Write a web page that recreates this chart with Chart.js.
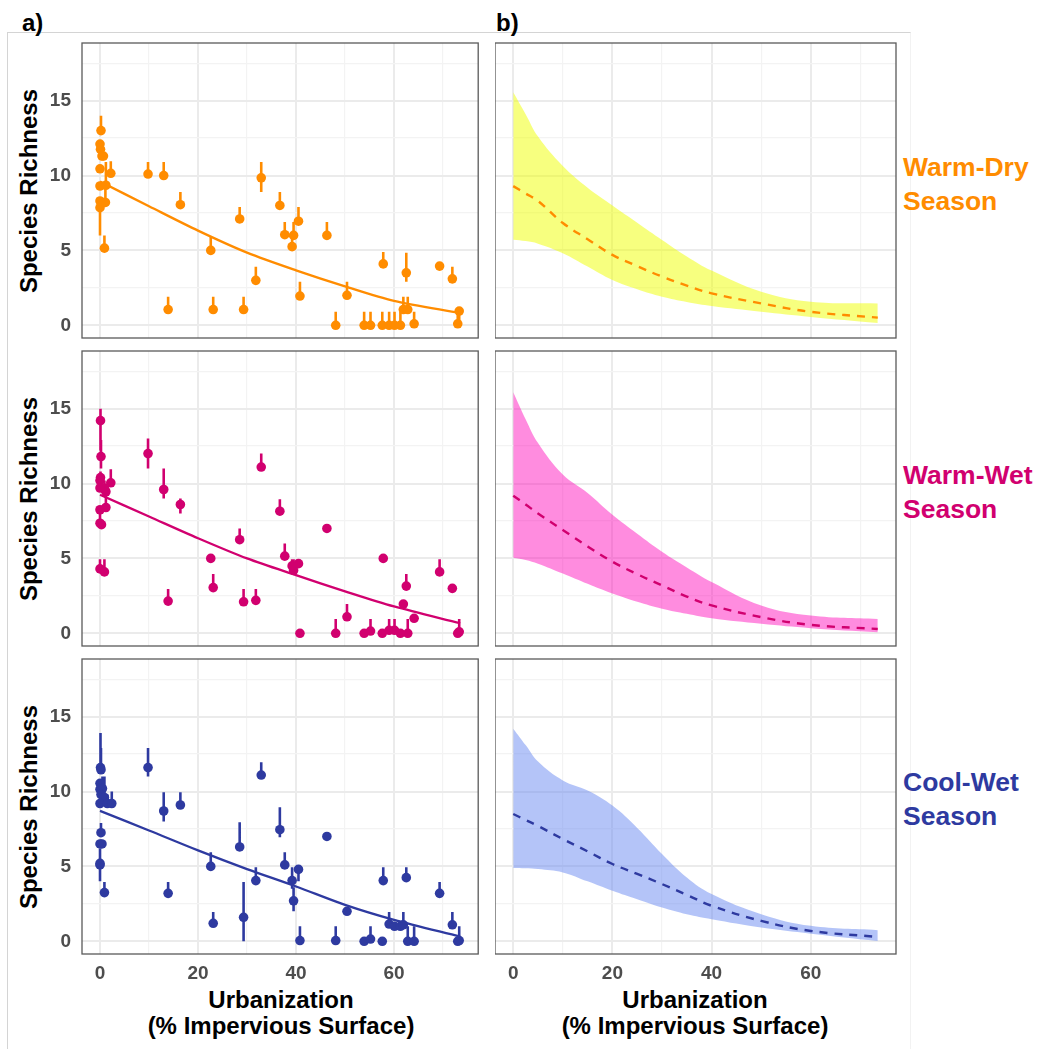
<!DOCTYPE html>
<html>
<head>
<meta charset="utf-8">
<script src="https://cdn.jsdelivr.net/npm/chart.js@4.4.1/dist/chart.umd.min.js"></script>
<style>
  body { margin: 0; background: #fff; width: 1037px; height: 1049px; position: relative; overflow: hidden;
         font-family: "Liberation Sans", Arial, sans-serif; }
  canvas { position: absolute; }
  .lbl { position: absolute; font-weight: bold; white-space: nowrap; }
  .ytitle { position: absolute; font-weight: bold; font-size: 24px; line-height: 24px; white-space: nowrap;
            transform: translate(-50%, -50%) rotate(-90deg); }
  .xtitle { position: absolute; font-weight: bold; font-size: 24px; line-height: 26px; text-align: center;
            width: 400px; color: #000; }
  .season { position: absolute; font-weight: bold; font-size: 26.5px; line-height: 34px; left: 903px; }
</style>
</head>
<body>

<div style="position:absolute;left:7px;top:32px;width:902px;height:1030px;border-left:1px solid #d4d4d4;border-top:1px solid #d4d4d4;border-right:1px solid #f2f2f2;"></div>

<div class="lbl" style="left:22px;top:11px;font-size:24px;line-height:24px;">a)</div>
<div class="lbl" style="left:496px;top:11px;font-size:24px;line-height:24px;">b)</div>

<div class="ytitle" style="left:29px;top:191px;">Species Richness</div>
<div class="ytitle" style="left:29px;top:499px;">Species Richness</div>
<div class="ytitle" style="left:29px;top:807px;">Species Richness</div>

<div class="xtitle" style="left:81px;top:987px;">Urbanization<br>(% Impervious Surface)</div>
<div class="xtitle" style="left:495px;top:987px;">Urbanization<br>(% Impervious Surface)</div>

<div class="season" style="top:150px;color:#FF8C00;">Warm-Dry<br>Season</div>
<div class="season" style="top:458px;color:#D1006F;">Warm-Wet<br>Season</div>
<div class="season" style="top:765px;color:#2E3AA0;">Cool-Wet<br>Season</div>

<script>
// ---- observed richness per site (x = % impervious surface) ----
var urbDry  = [0.2, 0.0, 0.1, 0.4, 0.7, 0.0, 0.0, 1.2, 2.2, 0.0, 1.1, 0.0, 0.9,
               9.8, 13.0, 16.4, 13.9, 22.6, 23.1, 28.5, 29.3, 31.8, 32.9, 36.7, 37.7, 39.5, 39.2, 40.5, 40.8,
               46.3, 48.1, 50.4, 53.9, 55.2, 57.6, 59.0, 60.1, 61.3, 57.8, 62.5, 61.9, 62.8, 64.1, 69.3, 71.9, 73.3, 73.0];
var richDry = [13.0, 12.1, 11.75, 11.3, 11.3, 10.45, 9.3, 9.35, 10.15, 8.3, 8.2, 7.85, 5.15,
               10.1, 10.0, 8.05, 1.05, 5.0, 1.05, 7.1, 1.05, 3.0, 9.85, 8.0, 6.05, 6.0, 5.25, 6.95, 1.95,
               6.0, 0.0, 2.0, 0.0, 0.0, 0.0, 0.0, 0.0, 0.0, 4.1, 3.5, 1.05, 1.05, 0.1, 3.95, 3.1, 0.95, 0.1];
var loDry   = [13.0, 12.1, 11.75, 11.3, 11.3, 10.45, 9.3, 9.35, 10.15, 8.3, 8.2, 6.0, 5.15,
               10.1, 10.0, 8.05, 1.05, 5.0, 1.05, 7.1, 1.05, 3.0, 8.9, 8.0, 6.05, 6.0, 5.25, 6.95, 1.95,
               6.0, 0.0, 2.0, 0.0, 0.0, 0.0, 0.0, 0.0, 0.0, 4.1, 2.9, 1.05, 1.05, 0.1, 3.95, 3.1, 0.1, 0.1];
var hiDry   = [14.0, 12.1, 11.75, 11.3, 11.3, 10.45, 9.3, 10.9, 10.95, 8.3, 9.3, 7.85, 6.0,
               10.9, 10.9, 8.9, 1.9, 5.95, 1.9, 7.9, 1.9, 3.9, 10.9, 8.9, 6.9, 6.9, 6.0, 7.9, 2.9,
               6.9, 0.9, 2.9, 0.9, 0.9, 0.9, 0.9, 0.9, 0.9, 4.9, 4.85, 1.9, 1.9, 0.9, 3.95, 3.9, 0.95, 0.9];

var urbWet  = [0.1, 0.2, 0.1, 0.0, 0.0, 0.9, 2.2, 1.2, 0.0, 1.2, 0.0, 0.3, 0.0, 0.9,
               9.8, 13.0, 16.4, 13.9, 22.6, 23.1, 28.5, 29.3, 31.8, 32.9, 36.7, 37.7, 39.2, 39.5, 40.5, 40.8,
               46.3, 48.1, 50.4, 53.9, 55.2, 57.6, 59.0, 60.1, 61.3, 62.8, 57.8, 62.5, 61.9, 64.1, 69.3, 71.9, 73.0, 73.3];
var richWet = [14.2, 11.8, 10.4, 10.2, 9.7, 9.65, 10.05, 9.45, 8.25, 8.4, 7.35, 7.25, 4.3, 4.1,
               12.0, 9.6, 8.6, 2.15, 5.0, 3.05, 6.25, 2.1, 2.2, 11.1, 8.15, 5.15, 4.5, 4.2, 4.65, 0.0,
               7.0, 0.0, 1.1, 0.0, 0.15, 0.0, 0.2, 0.2, 0.0, 0.0, 5.0, 3.15, 1.95, 1.0, 4.1, 3.0, 0.0, 0.1];
var loWet   = [12.2, 11.0, 10.4, 10.2, 9.7, 9.65, 10.05, 9.25, 8.25, 8.4, 7.35, 7.25, 4.3, 4.1,
               11.0, 9.0, 8.0, 2.15, 5.0, 3.05, 6.25, 2.1, 2.2, 11.1, 8.15, 5.15, 4.5, 4.2, 4.65, 0.0,
               7.0, 0.0, 1.1, 0.0, 0.15, 0.0, 0.2, 0.2, 0.0, 0.0, 5.0, 3.15, 1.95, 1.0, 4.1, 3.0, 0.0, 0.1];
var hiWet   = [15.0, 12.9, 10.8, 10.2, 9.7, 10.2, 10.95, 10.0, 8.25, 9.2, 8.3, 7.25, 4.95, 4.95,
               13.0, 11.0, 9.0, 2.95, 5.0, 3.95, 7.0, 2.95, 2.95, 12.0, 8.95, 6.0, 4.95, 4.95, 4.95, 0.0,
               7.0, 0.95, 1.95, 0.0, 0.95, 0.0, 0.95, 0.95, 0.0, 0.95, 5.0, 3.95, 1.95, 1.0, 4.95, 3.0, 0.0, 0.95];

var urbCool  = [0.1, 0.2, 0.0, 0.0, 0.5, 0.2, 0.9, 0.0, 1.5, 2.4, 0.2, 0.0, 0.4, 0.0, 0.0, 0.9,
                9.8, 13.0, 16.4, 13.9, 22.6, 23.1, 28.5, 29.3, 31.8, 32.9, 36.7, 37.7, 39.2, 39.5, 40.5, 40.8,
                46.3, 48.1, 50.4, 53.9, 55.2, 57.6, 57.8, 59.0, 60.1, 61.3, 61.9, 62.5, 62.8, 64.1, 69.3, 71.9, 73.0, 73.3];
var richCool = [11.6, 11.45, 10.55, 10.15, 10.2, 9.8, 9.6, 9.2, 9.2, 9.2, 7.25, 6.5, 6.5, 5.1, 5.2, 3.25,
                11.6, 8.7, 9.1, 3.2, 5.0, 1.2, 6.3, 1.6, 4.05, 11.1, 7.45, 5.1, 4.05, 2.7, 4.8, 0.05,
                7.0, 0.05, 2.0, 0.0, 0.15, 0.0, 4.05, 1.15, 1.0, 1.0, 1.1, 4.25, 0.0, 0.0, 3.2, 1.1, 0.0, 0.05];
var loCool   = [11.6, 11.45, 10.55, 10.15, 10.2, 9.8, 9.6, 9.2, 9.2, 9.2, 7.25, 6.5, 6.5, 4.0, 5.2, 3.25,
                11.0, 8.0, 9.1, 3.2, 5.0, 1.2, 6.3, 0.0, 4.05, 11.1, 6.95, 5.1, 3.5, 2.0, 4.0, 0.05,
                7.0, 0.05, 2.0, 0.0, 0.15, 0.0, 4.05, 1.15, 1.0, 1.0, 1.1, 4.25, 0.0, 0.0, 3.2, 1.1, 0.0, 0.05];
var hiCool   = [13.9, 12.9, 10.55, 10.15, 11.0, 10.3, 11.0, 9.2, 9.8, 10.0, 7.9, 6.5, 6.5, 5.1, 6.2, 3.95,
                12.9, 9.95, 9.95, 3.95, 5.95, 1.95, 7.95, 3.95, 4.95, 11.95, 8.95, 5.95, 4.95, 3.6, 4.8, 1.0,
                7.0, 1.0, 2.0, 0.0, 1.0, 0.0, 4.95, 1.95, 1.0, 1.0, 1.95, 4.95, 1.0, 1.0, 3.95, 1.95, 0.0, 1.0];

// ---- fitted trend (panel a) ----
var fitX    = [0, 10, 20, 30, 40, 50, 60, 73.5];
var fitDry  = [9.6, 7.95, 6.32, 4.85, 3.67, 2.6, 1.63, 0.82];
var fitWet  = [9.25, 7.8, 6.35, 5.0, 3.88, 2.8, 1.79, 0.67];
var fitCool = [8.71, 7.4, 6.07, 4.82, 3.66, 2.43, 1.43, 0.31];

// ---- model prediction with interval (panel b) ----
var predX    = [0, 2.5, 5, 10, 15, 20, 25, 30, 35, 40, 50, 60, 73.5];
var predDry  = [9.29, 8.8, 8.3, 6.83, 5.75, 4.7, 3.95, 3.25, 2.65, 2.13, 1.46, 0.9, 0.51];
var uppDry   = [15.56, 14.1, 12.6, 10.63, 9.18, 8.0, 6.85, 5.7, 4.6, 3.65, 2.24, 1.57, 1.46];
var lowDry   = [5.71, 5.62, 5.45, 4.81, 3.92, 3.02, 2.4, 1.9, 1.55, 1.28, 0.9, 0.56, 0.16];
var predWet  = [9.19, 8.6, 8.0, 6.9, 5.8, 4.78, 3.95, 3.2, 2.45, 1.86, 1.08, 0.56, 0.29];
var uppWet   = [16.1, 14.3, 12.7, 10.6, 9.37, 7.91, 6.65, 5.45, 4.4, 3.43, 1.86, 1.19, 0.96];
var lowWet   = [5.04, 4.9, 4.65, 3.99, 3.3, 2.65, 2.1, 1.64, 1.3, 1.0, 0.63, 0.34, 0.07];
var predCool = [8.5, 8.1, 7.7, 6.83, 6.0, 5.16, 4.5, 3.82, 3.1, 2.37, 1.36, 0.69, 0.29];
var uppCool  = [14.2, 13.1, 12.0, 10.74, 10.07, 9.06, 7.57, 5.83, 4.26, 3.15, 1.81, 1.03, 0.74];
var lowCool  = [4.89, 4.87, 4.82, 4.6, 4.0, 3.37, 2.8, 2.25, 1.8, 1.47, 0.92, 0.51, 0.02];

// ---- axes ----
var yTicks = [0, 2.5, 5, 7.5, 10, 12.5, 15, 17.5];
var xTicks = [0, 10, 20, 30, 40, 50, 60, 70];

Chart.defaults.font.family = '"Liberation Sans", Arial, sans-serif';

var seasons = [
  { col: '#FF8C00', band: 'rgba(240,255,0,0.5)',   urb: urbDry,  rich: richDry,  lo: loDry,  hi: hiDry,  fit: fitDry,  pred: predDry,  upp: uppDry,  low: lowDry },
  { col: '#D1006F', band: 'rgba(255,0,185,0.45)',  urb: urbWet,  rich: richWet,  lo: loWet,  hi: hiWet,  fit: fitWet,  pred: predWet,  upp: uppWet,  low: lowWet },
  { col: '#2E3AA0', band: 'rgba(105,137,242,0.5)', urb: urbCool, rich: richCool, lo: loCool, hi: hiCool, fit: fitCool, pred: predCool, upp: uppCool, low: lowCool }
];

// panel boxes
var colL = [82, 495], colR = [481, 896];
var rowT = [43, 351, 659], rowB = [338, 646, 954];
var PADT = 24;

function pairs(xs, ys) {
  return xs.map(function (x, i) { return { x: x, y: ys[i] }; });
}

function errSegments(xs, lo, hi) {
  var pts = [];
  for (var i = 0; i < xs.length; i++) {
    if (hi[i] - lo[i] < 0.05) continue;
    pts.push({ x: xs[i], y: lo[i] }, { x: xs[i], y: hi[i] }, { x: xs[i], y: null });
  }
  return pts;
}

var panelBorder = {
  id: 'panelBorder',
  afterDraw: function (chart) {
    var a = chart.chartArea, ctx = chart.ctx;
    ctx.save();
    ctx.strokeStyle = '#5a5a5a';
    ctx.lineWidth = 1.3;
    ctx.strokeRect(a.left, a.top, a.right - a.left, a.bottom - a.top);
    ctx.restore();
  }
};

function makePanel(c, r, datasets) {
  var yW = c === 0 ? colL[0] : 0;
  var bottomRow = r === 2;
  var xH = bottomRow ? 40 : 0;
  var padB = bottomRow ? 0 : PADT;
  var w = yW + (colR[c] - colL[c]) + 2;
  var h = PADT + (rowB[r] - rowT[r]) + xH + padB;

  var cv = document.createElement('canvas');
  cv.width = w; cv.height = h;
  cv.style.left = (colL[c] - yW) + 'px';
  cv.style.top = (rowT[r] - PADT) + 'px';
  cv.style.width = w + 'px'; cv.style.height = h + 'px';
  document.body.appendChild(cv);

  new Chart(cv.getContext('2d'), {
    type: 'scatter',
    data: { datasets: datasets },
    plugins: [panelBorder],
    options: {
      responsive: false,
      animation: false,
      layout: { padding: { top: PADT, bottom: padB, left: 0, right: 2 } },
      plugins: { legend: { display: false }, tooltip: { enabled: false } },
      scales: {
        x: {
          type: 'linear', min: -3.675, max: 77.175, offset: false,
          border: { display: false },
          afterBuildTicks: function (s) { s.ticks = xTicks.map(function (v) { return { value: v }; }); },
          afterFit: function (s) { s.height = xH; },
          grid: {
            drawTicks: false, offset: false,
            color: function (k) { return k.tick && k.tick.value % 20 === 0 ? '#ebebeb' : '#f3f3f3'; },
            lineWidth: function (k) { return k.tick && k.tick.value % 20 === 0 ? 2 : 1.2; }
          },
          ticks: {
            display: bottomRow, autoSkip: false, maxRotation: 0, padding: 8,
            color: '#4d4d4d', font: { size: 19, weight: 'bold' },
            callback: function (v) { return v % 20 === 0 ? v : ''; }
          }
        },
        y: {
          type: 'linear', min: -0.85, max: 18.85,
          border: { display: false },
          afterBuildTicks: function (s) { s.ticks = yTicks.map(function (v) { return { value: v }; }); },
          afterFit: function (s) { s.width = yW; },
          grid: {
            drawTicks: false,
            color: function (k) { return k.tick && k.tick.value % 5 === 0 ? '#ebebeb' : '#f3f3f3'; },
            lineWidth: function (k) { return k.tick && k.tick.value % 5 === 0 ? 2 : 1.2; }
          },
          ticks: {
            display: c === 0, padding: 11,
            color: '#4d4d4d', font: { size: 19, weight: 'bold' },
            callback: function (v) { return v % 5 === 0 ? v : ''; }
          }
        }
      }
    }
  });
}

seasons.forEach(function (s, r) {
  // panel a: points, error bars and trend line
  makePanel(0, r, [
    {
      data: pairs(fitX, s.fit), showLine: true, borderColor: s.col, borderWidth: 2.3,
      pointRadius: 0, tension: 0.3, order: 0
    },
    {
      data: pairs(s.urb, s.rich), backgroundColor: s.col, borderWidth: 0,
      pointRadius: 4.8, pointHoverRadius: 4.8, order: 1
    },
    {
      data: errSegments(s.urb, s.lo, s.hi), showLine: true, spanGaps: false,
      borderColor: s.col, borderWidth: 2.6, borderCapStyle: 'butt', pointRadius: 0, order: 2
    }
  ]);
  // panel b: prediction and interval band
  makePanel(1, r, [
    {
      data: pairs(predX, s.pred), showLine: true, borderColor: s.col, borderWidth: 2.4,
      borderDash: [8, 7], pointRadius: 0, tension: 0.4, order: 0
    },
    {
      data: pairs(predX, s.upp), showLine: true, borderWidth: 0, borderColor: 'rgba(0,0,0,0)',
      backgroundColor: s.band, fill: '+1', pointRadius: 0, tension: 0.4, order: 1
    },
    {
      data: pairs(predX, s.low), showLine: true, borderWidth: 0, borderColor: 'rgba(0,0,0,0)',
      pointRadius: 0, fill: false, tension: 0.4, order: 2
    }
  ]);
});
</script>
</body>
</html>
